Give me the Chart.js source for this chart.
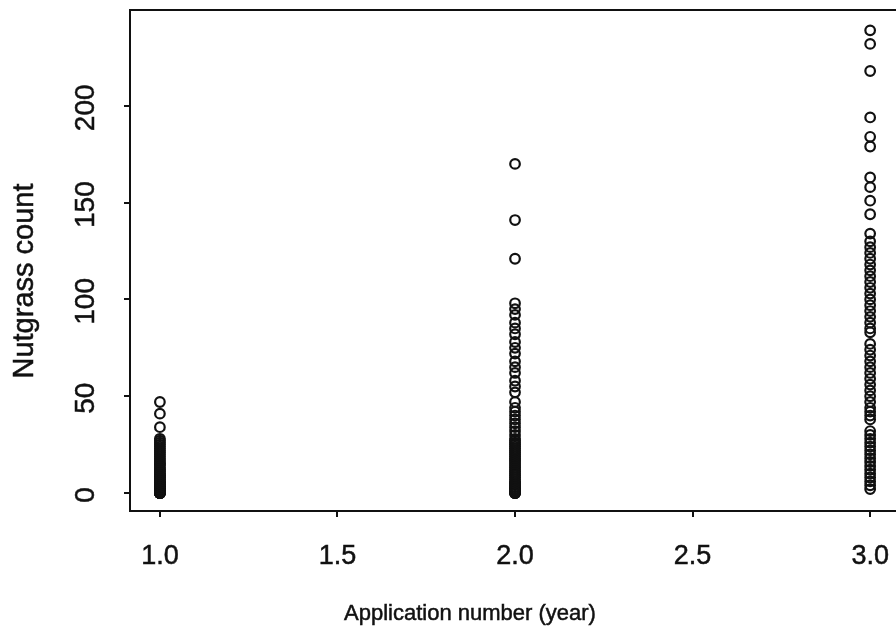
<!DOCTYPE html>
<html>
<head>
<meta charset="utf-8">
<script src="https://cdn.jsdelivr.net/npm/chart.js@4"></script>
<style>
  html, body { margin: 0; padding: 0; background: #fff; overflow: hidden; }
  #wrap { width: 910px; height: 633px; }
</style>
</head>
<body>
<div id="wrap"><canvas id="scatter-chart" width="910" height="633"></canvas></div>
<script>
// Nutgrass counts per application (year)
const year1Counts = [0,0,0,0,0,0,0,0,1,1,1,1,1,2,2,2,2,3,3,3,4,4,4,5,5,5,6,6,7,7,8,8,9,9,10,10,11,12,12,13,14,15,15,16,17,18,19,20,21,22,23,24,25,26,27,28,34,41,47];
const year2Counts = [0,0,0,0,1,1,1,2,2,3,3,4,5,5,6,7,8,9,10,11,12,13,14,15,16,17,18,19,20,21,22,23,24,25,26,27,28,30,32,34,36,38,40,42,44,47,52,55,58,62,65,68,72,75,78,82,85,88,92,95,98,121,141,170];
const year3Counts = [2,4,6,8,10,12,14,16,18,20,22,24,26,28,30,32,38,40,42,44,47,50,53,56,59,62,65,68,71,74,77,83,85,88,91,94,97,100,103,106,109,112,115,118,121,124,127,130,134,144,151,158,163,179,184,194,218,232,239];
const years = [1, 2, 3];

const xTicks = [1.0, 1.5, 2.0, 2.5, 3.0];
const xTickLabels = ["1.0", "1.5", "2.0", "2.5", "3.0"];
const yTicks = [0, 50, 100, 150, 200];
const yTickLabels = ["0", "50", "100", "150", "200"];

const xTitle = "Application number (year)";
const yTitle = "Nutgrass count";

const points = [];
[year1Counts, year2Counts, year3Counts].forEach((counts, i) => {
  counts.forEach((c) => points.push({ x: years[i], y: c }));
});

const ink = "#111";
const font = '"Liberation Sans", Arial, Helvetica, sans-serif';

// text is a little heavier in the scanned figure, so fill and add a thin stroke
const heavyText = (ctx, text, x, y) => {
  ctx.fillText(text, x, y);
  ctx.strokeText(text, x, y);
};

// draws the frame, tick labels and axis titles the way the scanned figure has them
const frameAndLabels = {
  id: "frameAndLabels",
  afterDraw(chart) {
    const { ctx, chartArea, scales } = chart;
    const x = scales.x;
    const y = scales.y;
    ctx.save();
    ctx.strokeStyle = ink;
    ctx.lineWidth = 2;
    ctx.strokeRect(chartArea.left, chartArea.top, chartArea.right - chartArea.left, chartArea.bottom - chartArea.top);

    ctx.fillStyle = ink;
    ctx.lineWidth = 0.5;
    ctx.textAlign = "center";
    ctx.textBaseline = "alphabetic";

    ctx.font = "27px " + font;
    xTicks.forEach((v, i) => {
      heavyText(ctx, xTickLabels[i], x.getPixelForValue(v), chartArea.bottom + 53);
    });

    ctx.font = "28px " + font;
    yTicks.forEach((v, i) => {
      ctx.save();
      ctx.translate(94, y.getPixelForValue(v) + 2);
      ctx.rotate(-Math.PI / 2);
      heavyText(ctx, yTickLabels[i], 0, 0);
      ctx.restore();
    });

    ctx.font = "29px " + font;
    ctx.save();
    ctx.translate(33, 281);
    ctx.rotate(-Math.PI / 2);
    heavyText(ctx, yTitle, 0, 0);
    ctx.restore();

    ctx.font = "22px " + font;
    heavyText(ctx, xTitle, 470, 620);
    ctx.restore();
  },
};

new Chart(document.getElementById("scatter-chart"), {
  type: "scatter",
  data: {
    datasets: [
      {
        data: points,
        pointStyle: "circle",
        pointRadius: 4.8,
        pointBorderWidth: 2.2,
        pointBackgroundColor: "rgba(0,0,0,0)",
        pointBorderColor: ink,
      },
    ],
  },
  options: {
    responsive: false,
    animation: false,
    events: [],
    layout: { padding: { top: 10, right: 4, left: 0, bottom: 0 } },
    plugins: { legend: { display: false }, tooltip: { enabled: false } },
    scales: {
      x: {
        type: "linear",
        min: 0.9158,
        max: 3.0925,
        afterBuildTicks: (scale) => { scale.ticks = xTicks.map((v) => ({ value: v })); },
        afterFit: (scale) => { scale.height = 122; },
        ticks: { display: false },
        grid: { drawOnChartArea: false, drawTicks: true, tickLength: 6, color: ink, lineWidth: 2 },
        border: { display: true, color: ink, width: 2 },
      },
      y: {
        type: "linear",
        min: -9.3,
        max: 249.5,
        afterBuildTicks: (scale) => { scale.ticks = yTicks.map((v) => ({ value: v })); },
        afterFit: (scale) => { scale.width = 130; },
        ticks: { display: false },
        grid: { drawOnChartArea: false, drawTicks: true, tickLength: 6, color: ink, lineWidth: 2 },
        border: { display: true, color: ink, width: 2 },
      },
    },
  },
  plugins: [frameAndLabels],
});
</script>
</body>
</html>
